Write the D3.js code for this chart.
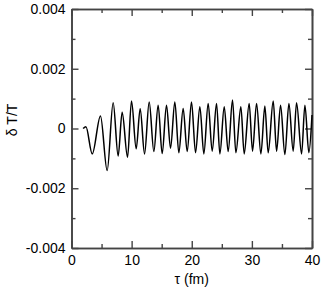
<!DOCTYPE html>
<html>
<head>
<meta charset="utf-8">
<script src="https://cdn.jsdelivr.net/npm/d3@7"></script>
<style>
  body { margin: 0; background: #fff; }
  svg { display: block; }
  .axis text { font-family: "Liberation Sans", Arial, sans-serif; font-size: 14px; fill: #000; }
  .axis path, .axis line { stroke: #444; }
</style>
</head>
<body>
<div id="chart"></div>
<script>
// oscillation extrema (tau in fm, dT/T)
let tau = [1.93, 2.4, 3.45, 4.82, 5.93, 6.93, 7.76, 8.42, 9.32, 9.98, 10.76, 11.42, 12.15, 12.92, 13.7, 14.41,
           15.08, 15.80, 16.47, 17.19, 17.85, 18.57, 19.24, 19.96, 20.63, 21.35, 22.01, 22.73, 23.40, 24.12,
           24.68, 25.40, 26.06, 26.78, 27.34, 28.17, 28.72, 29.55, 30.11, 30.78, 31.50, 32.16, 32.71, 33.55,
           34.11, 34.77, 35.49, 36.16, 36.87, 37.43, 38.27, 38.82, 39.48, 40.0];
let dT = [0, 0.00006, -0.00085, 0.00042, -0.00141, 0.00086, -0.00092, 0.00054, -0.00096, 0.00092, -0.00068, 0.00066, -0.00085, 0.00089, -0.00077, 0.00078,
          -0.00084, 0.00078, -0.00066, 0.00089, -0.00081, 0.00067, -0.00077, 0.00089, -0.00081, 0.00073, -0.00085, 0.00084, -0.00076, 0.00084,
          -0.00085, 0.00073, -0.00077, 0.00095, -0.00081, 0.00073, -0.00085, 0.00084, -0.00076, 0.00084, -0.00085, 0.00075, -0.00081, 0.00092,
          -0.00076, 0.00078, -0.00087, 0.00084, -0.00076, 0.00086, -0.00085, 0.00078, -0.00081, 0.00045];

let xMajor = [0, 10, 20, 30, 40], xMinor = [5, 15, 25, 35];
let yMajor = [-0.004, -0.002, 0, 0.002, 0.004], yMinor = [-0.003, -0.001, 0.001, 0.003];

let W = 321, H = 290;
let mLeft = 71.5, mRight = 312, mTop = 9, mBottom = 248;

let svg = d3.select("#chart").append("svg")
    .attr("width", W)
    .attr("height", H);

let x = d3.scaleLinear().domain([0, 40]).range([mLeft, mRight]);
let y = d3.scaleLinear().domain([-0.004, 0.004]).range([mBottom, mTop]);

let fmtY = d => d === 0 ? "0" : d.toFixed(3);

// frame + ticks, all inward
function addAxis(gen, tx, ty) {
    let g = svg.append("g").attr("class", "axis")
        .attr("transform", `translate(${tx},${ty})`)
        .call(gen);
    g.select(".domain").attr("stroke-width", 1.6);
    g.selectAll(".tick line").attr("stroke-width", 1.4);
    return g;
}
addAxis(d3.axisBottom(x).tickValues(xMajor).tickSize(-7).tickPadding(7).tickSizeOuter(0), 0, mBottom);
addAxis(d3.axisBottom(x).tickValues(xMinor).tickSize(-4).tickFormat("").tickSizeOuter(0), 0, mBottom);
addAxis(d3.axisTop(x).tickValues(xMajor).tickSize(-7).tickFormat("").tickSizeOuter(0), 0, mTop);
addAxis(d3.axisTop(x).tickValues(xMinor).tickSize(-4).tickFormat("").tickSizeOuter(0), 0, mTop);
addAxis(d3.axisLeft(y).tickValues(yMajor).tickSize(-7).tickPadding(6).tickFormat(fmtY).tickSizeOuter(0), mLeft, 0);
addAxis(d3.axisLeft(y).tickValues(yMinor).tickSize(-4).tickFormat("").tickSizeOuter(0), mLeft, 0);
addAxis(d3.axisRight(y).tickValues(yMajor).tickSize(-7).tickFormat("").tickSizeOuter(0), mRight, 0);
addAxis(d3.axisRight(y).tickValues(yMinor).tickSize(-4).tickFormat("").tickSizeOuter(0), mRight, 0);

let pts = tau.map((t, i) => [t, dT[i]]);
let line = d3.line()
    .x(d => x(d[0]))
    .y(d => y(d[1]))
    .curve(d3.curveMonotoneX);

svg.append("path")
    .datum(pts)
    .attr("d", line)
    .attr("fill", "none")
    .attr("stroke", "#000")
    .attr("stroke-width", 1.5);

svg.append("text")
    .attr("x", (mLeft + mRight) / 2)
    .attr("y", 284)
    .attr("text-anchor", "middle")
    .style("font-family", "Liberation Sans, Arial, sans-serif")
    .style("font-size", "14px")
    .text("τ (fm)");

svg.append("text")
    .attr("transform", "translate(17,120) rotate(-90)")
    .attr("text-anchor", "middle")
    .style("font-family", "Liberation Sans, Arial, sans-serif")
    .style("font-size", "14px")
    .text("δ T/T");
</script>
</body>
</html>
